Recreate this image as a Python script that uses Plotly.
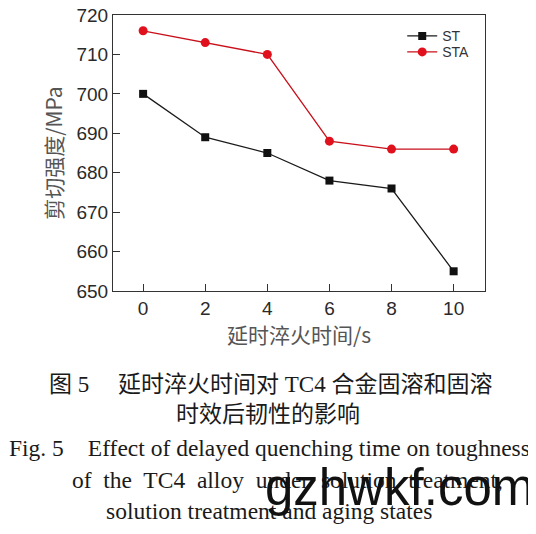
import plotly.graph_objects as go

# ---- data ----
delay_time = [0, 2, 4, 6, 8, 10]
st_values = [700, 689, 685, 678, 676, 655]
sta_values = [716, 713, 710, 688, 686, 686]
x_ticks = [0, 2, 4, 6, 8, 10]
y_ticks = [650, 660, 670, 680, 690, 700, 710, 720]

x_title = "延时淬火时间/s"
y_title = "剪切强度/MPa"
caption_lines = [
    "图 5　 延时淬火时间对 TC4 合金固溶和固溶",
    "时效后韧性的影响",
    "Fig. 5　Effect of delayed quenching time on toughness",
    "of\u00a0 the\u00a0 TC4\u00a0 alloy\u00a0 under\u00a0 solution\u00a0 treatment,",
    "solution treatment and aging states",
]
watermark = "gzhwkf.com"

OFF = 8  # page body margin of the html page
W, H = 536 - OFF, 534 - OFF
L, R, T, B = 112.7, 484.8, 14.7, 290.7  # plot box in screen pixels


def py(ypix):
    return (B - ypix) / (B - T)


def px(xpix):
    return (xpix - L) / (R - L)


fig = go.Figure()
fig.add_trace(go.Scatter(
    x=delay_time, y=st_values, name="ST", mode="lines+markers",
    line=dict(color="#1a1a1a", width=1.3),
    marker=dict(symbol="square", size=8, color="#111111"),
    legend="legend",
))
fig.add_trace(go.Scatter(
    x=delay_time, y=sta_values, name="STA", mode="lines+markers",
    line=dict(color="#c8101a", width=1.3),
    marker=dict(symbol="circle", size=9, color="#e0101c"),
    legend="legend2",
))

axis_common = dict(
    showline=True, linecolor="#333333", linewidth=1, mirror=True,
    ticks="inside", ticklen=7, tickcolor="#333333", tickwidth=1,
    showgrid=False, zeroline=False, automargin=False,
    ticklabeloverflow="allow",
    tickfont=dict(family="Liberation Sans, Arial", size=19, color="#2a2a2a"),
)

leg_common = dict(xanchor="left", yanchor="middle", bgcolor="rgba(0,0,0,0)",
                  font=dict(family="Liberation Sans, Arial", size=14, color="#333333"),
                  itemwidth=30)

fig.update_layout(
    width=W, height=H, autosize=False,
    margin=dict(l=L - OFF, r=536 - R, t=T - OFF, b=534 - B, pad=0),
    paper_bgcolor="white", plot_bgcolor="white",
    xaxis=dict(range=[-0.97, 11.01], tickvals=x_ticks, **axis_common,
               title=dict(text=x_title, standoff=6,
                          font=dict(family="Noto Sans CJK SC", size=21, color="#555555"))),
    yaxis=dict(range=[650, 720], tickvals=y_ticks, **axis_common,
               title=dict(text=y_title, standoff=8,
                          font=dict(family="Noto Sans CJK SC", size=21, color="#555555"))),
    legend=dict(x=px(402), y=py(36), **leg_common),
    legend2=dict(x=px(402), y=py(52), **leg_common),
    showlegend=True,
)

cap_font_cn = dict(family="Liberation Serif, Noto Sans CJK SC", size=23, color="#1a1a1a")
cap_font_en = dict(family="Liberation Serif, Times New Roman", size=23.5, color="#1a1a1a")
cap_pos = [(270, 384, cap_font_cn), (268, 414, cap_font_cn),
           (269, 448, cap_font_en), (287, 480, cap_font_en), (269, 511, cap_font_en)]
for text, (cx, cy, f) in zip(caption_lines, cap_pos):
    fig.add_annotation(text=text, xref="paper", yref="paper", x=px(cx), y=py(cy),
                       xanchor="center", yanchor="middle", showarrow=False, font=f)

fig.add_annotation(text=watermark, xref="paper", yref="paper", x=px(399), y=py(487),
                   xanchor="center", yanchor="middle", showarrow=False,
                   font=dict(family="Liberation Sans, Arial", size=51, color="#111111"))

fig.write_html("out.html")
